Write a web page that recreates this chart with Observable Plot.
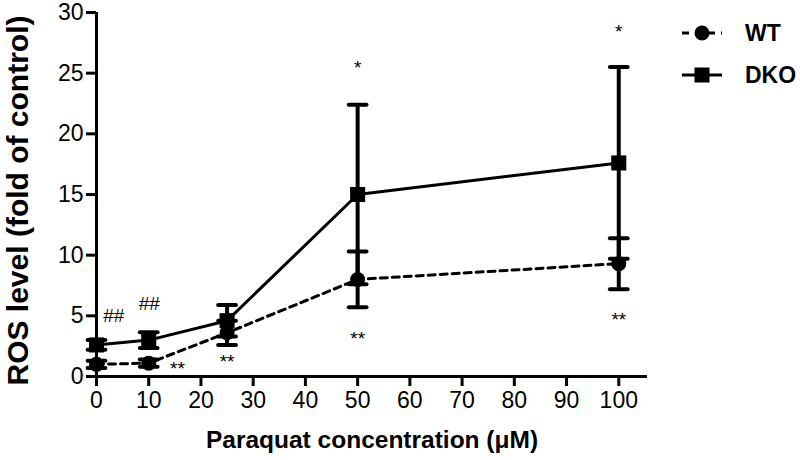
<!DOCTYPE html>
<html>
<head>
<meta charset="utf-8">
<script src="https://cdn.jsdelivr.net/npm/d3@7"></script>
<script src="https://cdn.jsdelivr.net/npm/@observablehq/plot@0.6"></script>
<style>
  body { margin: 0; background: #fff; }
  #wrap { position: relative; width: 800px; height: 460px; font-family: "Liberation Sans", Arial, sans-serif; }
  #legend { position: absolute; left: 680px; top: 12px; }
  .row { display: flex; align-items: center; height: 42px; }
  .row span { font-weight: bold; font-size: 23px; margin-left: 21px; color: #000; }
</style>
</head>
<body>
<div id="wrap"></div>
<script>
const concentrations = [0, 10, 25, 50, 100];
const wtMean = [1.0, 1.1, 3.6, 8.0, 9.3];
const wtErr = [0.3, 0.3, 1.0, 2.3, 2.1];
const dkoMean = [2.6, 3.0, 4.6, 15.0, 17.6];
const dkoErr = [0.4, 0.65, 1.3, 7.4, 7.9];
const xTicks = [0, 10, 20, 30, 40, 50, 60, 70, 80, 90, 100];
const yTicks = [0, 5, 10, 15, 20, 25, 30];
const annX = [3.3, 10.1, 15.5, 25, 50, 50, 100, 100];
const annY = [5.0, 6.0, 0.6, 1.2, 25.4, 3.1, 28.4, 4.7];
const annLabel = ["##", "##", "**", "**", "*", "**", "*", "**"];
const seriesNames = ["WT", "DKO"];

const wt = concentrations.map((x, i) => ({x, y: wtMean[i], e: wtErr[i]}));
const dko = concentrations.map((x, i) => ({x, y: dkoMean[i], e: dkoErr[i]}));
const ann = annX.map((x, i) => ({x, y: annY[i], t: annLabel[i]}));
const capHalf = 1.7;

const errMarks = (data) => [
  Plot.ruleX(data, {x: "x", y1: d => d.y - d.e, y2: d => d.y + d.e, stroke: "#000", strokeWidth: 4}),
  Plot.link(data, {x1: d => d.x - capHalf, x2: d => d.x + capHalf, y1: d => d.y + d.e, y2: d => d.y + d.e, stroke: "#000", strokeWidth: 4, strokeLinecap: "round"}),
  Plot.link(data, {x1: d => d.x - capHalf, x2: d => d.x + capHalf, y1: d => d.y - d.e, y2: d => d.y - d.e, stroke: "#000", strokeWidth: 4, strokeLinecap: "round"})
];

const chart = Plot.plot({
  width: 800,
  height: 460,
  marginLeft: 96,
  marginRight: 153,
  marginTop: 12,
  marginBottom: 84,
  style: {fontFamily: "Liberation Sans, Arial, sans-serif", color: "#000", background: "#fff"},
  x: {domain: [0, 105.5]},
  y: {domain: [0, 30]},
  marks: [
    Plot.axisX({ticks: xTicks, tickSize: 10, tickPadding: 5, fontSize: 23, strokeWidth: 3, label: null}),
    Plot.axisY({ticks: yTicks, tickSize: 10, tickPadding: 3, fontSize: 23, strokeWidth: 3, label: null}),
    Plot.ruleY([0], {stroke: "#000", strokeWidth: 3}),
    Plot.ruleX([0], {stroke: "#000", strokeWidth: 3}),
    ...errMarks(wt),
    ...errMarks(dko),
    Plot.line(wt, {x: "x", y: "y", stroke: "#000", strokeWidth: 3, strokeDasharray: "7,5"}),
    Plot.line(dko, {x: "x", y: "y", stroke: "#000", strokeWidth: 3}),
    Plot.dot(wt, {x: "x", y: "y", r: 7.5, fill: "#000", symbol: "circle"}),
    Plot.dot(dko, {x: "x", y: "y", r: 8.5, fill: "#000", symbol: "square"}),
    Plot.text(ann, {x: "x", y: "y", text: "t", fontSize: 19, fill: "#000", lineAnchor: "middle"}),
    Plot.text(["Paraquat concentration (μM)"], {frameAnchor: "bottom", dy: 71, fontSize: 24.5, fontWeight: "bold", fill: "#000", lineAnchor: "bottom", clip: false}),
    Plot.text(["ROS level (fold of control)"], {frameAnchor: "left", dx: -78, dy: 6, rotate: -90, textAnchor: "middle", fontSize: 30, fontWeight: "bold", fill: "#000", lineAnchor: "middle", clip: false})
  ]
});
document.getElementById("wrap").appendChild(chart);

const legend = document.createElement("div");
legend.id = "legend";
seriesNames.forEach((name, i) => {
  const row = document.createElement("div");
  row.className = "row";
  const sym = i === 0
    ? `<svg width="44" height="20"><line x1="2" y1="10" x2="42" y2="10" stroke="#000" stroke-width="3" stroke-dasharray="7,6"/><circle cx="22" cy="10" r="7.5" fill="#000"/></svg>`
    : `<svg width="44" height="20"><line x1="2" y1="10" x2="42" y2="10" stroke="#000" stroke-width="3"/><rect x="14.5" y="2.5" width="15" height="15" fill="#000"/></svg>`;
  row.innerHTML = sym + `<span>${name}</span>`;
  legend.appendChild(row);
});
document.getElementById("wrap").appendChild(legend);
</script>
</body>
</html>
